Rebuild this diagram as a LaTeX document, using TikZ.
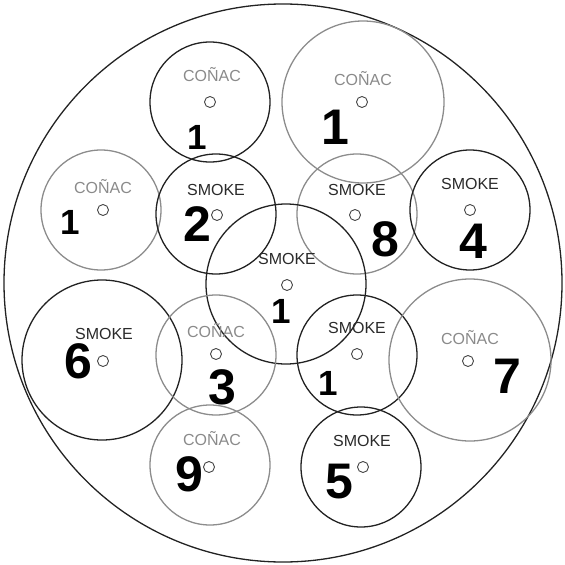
\documentclass[tikz,border=0pt]{standalone}
\usepackage{fontspec}
\setmainfont{Liberation Sans}
\definecolor{darkline}{HTML}{222222}
\definecolor{grayline}{HTML}{8C8C8C}
\definecolor{smoketxt}{HTML}{2A2A2A}
\definecolor{conactxt}{HTML}{8A8A8A}
\definecolor{dotline}{HTML}{444444}
\tikzset{
  ring/.style={circle, draw, inner sep=0pt, line width=1.3pt, minimum size=#1},
  darkring/.style={ring=#1, draw=darkline},
  grayring/.style={ring=#1, draw=grayline},
  dotc/.style={circle, draw=dotline, line width=0.9pt, inner sep=0pt, minimum size=11pt},
  smk/.style={text=smoketxt, font=\fontsize{16}{16}\selectfont, inner sep=0pt},
  cnc/.style={text=conactxt, font=\fontsize{16}{16}\selectfont, inner sep=0pt},
  bignum/.style={font=\fontsize{50}{50}\selectfont\bfseries, inner sep=0pt},
  smallnum/.style={font=\fontsize{35}{35}\selectfont\bfseries, inner sep=0pt},
}
\begin{document}
\begin{tikzpicture}[x=1pt,y=-1pt]
\useasboundingbox (0,0) rectangle (565,565);
% outer plate
\node[darkring=558pt] (plate) at (283,283) {};
% rings
\node[darkring=120pt] (c1) at (210,102) {};
\node[grayring=162pt] (c2) at (363,102) {};
\node[grayring=120pt] (c3) at (101,210) {};
\node[darkring=120pt] (c4) at (216,214) {};
\node[grayring=120pt] (c5) at (357,214) {};
\node[darkring=120pt] (c6) at (470,210) {};
\node[darkring=160pt] (c7) at (286,284) {};
\node[darkring=160pt] (c8) at (102,360) {};
\node[grayring=120pt] (c9) at (216,355) {};
\node[darkring=120pt] (c10) at (357,355) {};
\node[grayring=162pt] (c11) at (470,360) {};
\node[grayring=120pt] (c12) at (210,465) {};
\node[darkring=120pt] (c13) at (361,467) {};
% small dots
\node[dotc] (d1) at (210,102) {};
\node[dotc] (d2) at (362,102) {};
\node[dotc] (d3) at (103,210) {};
\node[dotc] (d4) at (217,215) {};
\node[dotc] (d5) at (355,215) {};
\node[dotc] (d6) at (470,210) {};
\node[dotc] (d7) at (287,285) {};
\node[dotc] (d8) at (103,361) {};
\node[dotc] (d9) at (216,354) {};
\node[dotc] (d10) at (357,354) {};
\node[dotc] (d11) at (468,361) {};
\node[dotc] (d12) at (209,467) {};
\node[dotc] (d13) at (363,467) {};
% labels
\node[cnc] (l1) at (212,75) {COÑAC};
\node[cnc] (l2) at (363,79) {COÑAC};
\node[cnc] (l3) at (103,187) {COÑAC};
\node[smk] (l4) at (216,190) {SMOKE};
\node[smk] (l5) at (357,190) {SMOKE};
\node[smk] (l6) at (470,184) {SMOKE};
\node[smk] (l7) at (287,259) {SMOKE};
\node[smk] (l8) at (104,334) {SMOKE};
\node[cnc] (l9) at (216,331) {COÑAC};
\node[smk] (l10) at (357,328) {SMOKE};
\node[cnc] (l11) at (470,338) {COÑAC};
\node[cnc] (l12) at (212,439) {COÑAC};
\node[smk] (l13) at (362,441) {SMOKE};
% numbers
\node[smallnum] (n1) at (197,137) {1};
\node[bignum] (n2) at (335,127) {1};
\node[smallnum] (n3) at (70,222) {1};
\node[bignum] (n4) at (197,224) {2};
\node[bignum] (n5) at (385,239) {8};
\node[bignum] (n6) at (473,241) {4};
\node[smallnum] (n7) at (281,311) {1};
\node[bignum] (n8) at (78,361) {6};
\node[bignum] (n9) at (222,387) {3};
\node[smallnum] (n10) at (328,383) {1};
\node[bignum] (n11) at (507,376) {7};
\node[bignum] (n12) at (189,474) {9};
\node[bignum] (n13) at (339,482) {5};
\end{tikzpicture}
\end{document}
